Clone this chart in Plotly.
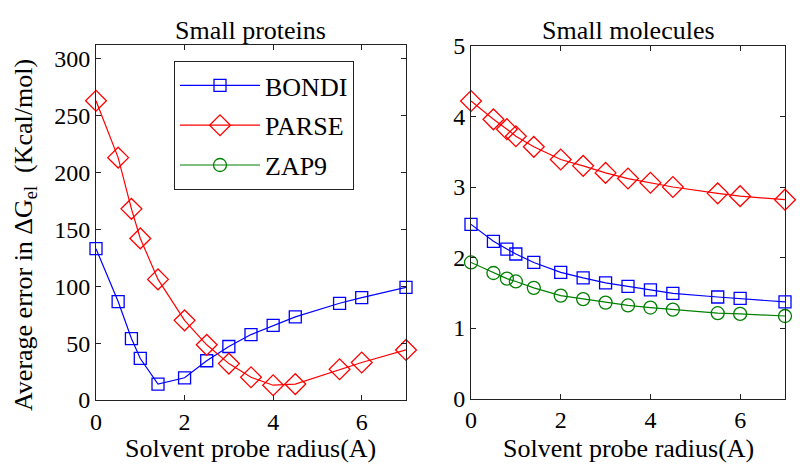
import plotly.graph_objects as go

# Probe radii (A)
radius = [0, 0.5, 0.8, 1.0, 1.4, 2.0, 2.5, 3.0, 3.5, 4.0, 4.5, 5.5, 6.0, 7.0]

# Small proteins: average error (Kcal/mol)
prot_bondi = [133, 86.5, 54, 36.5, 14, 19.5, 34.5, 47, 57.5, 65.5, 73, 85, 90, 99]
prot_parse = [263, 213, 168, 142, 106, 70, 48.5, 32, 20, 13, 14, 27, 33, 44]

# Small molecules: average error (Kcal/mol)
mol_bondi = [2.47, 2.23, 2.12, 2.05, 1.93, 1.79, 1.71, 1.64, 1.59, 1.54, 1.49, 1.44, 1.42, 1.37]
mol_parse = [4.22, 3.96, 3.82, 3.72, 3.57, 3.39, 3.30, 3.20, 3.12, 3.06, 3.00, 2.91, 2.87, 2.82]
mol_zap9 = [1.93, 1.78, 1.70, 1.66, 1.57, 1.46, 1.41, 1.36, 1.32, 1.29, 1.26, 1.21, 1.20, 1.17]

x_ticks = [0, 2, 4, 6]
prot_yticks = [0, 50, 100, 150, 200, 250, 300]
mol_yticks = [0, 1, 2, 3, 4, 5]

BLUE = "rgb(0,0,255)"
RED = "rgb(255,0,0)"
GREEN = "rgb(0,128,0)"
FONT = "Liberation Serif"

fig = go.Figure()

def add(x, y, name, color, symbol, size, xa, ya, show):
    fig.add_trace(go.Scatter(
        x=x, y=y, name=name, mode="lines+markers", cliponaxis=False,
        line=dict(color=color, width=1.2),
        marker=dict(symbol=symbol, size=size, color=color,
                    line=dict(color=color, width=1.3)),
        xaxis=xa, yaxis=ya, showlegend=show, legendgroup=name))

add(radius, prot_bondi, "BONDI", BLUE, "square-open", 12, "x", "y", False)
add(radius, prot_parse, "PARSE", RED, "diamond-open", 16, "x", "y", False)
add(radius, mol_bondi, "BONDI", BLUE, "square-open", 12, "x2", "y2", True)
add(radius, mol_parse, "PARSE", RED, "diamond-open", 16, "x2", "y2", True)
add(radius, mol_zap9, "ZAP9", GREEN, "circle-open", 13, "x2", "y2", True)

W, H = 800, 473
axis_common = dict(
    showline=True, linecolor="#222", linewidth=1, mirror="allticks",
    ticks="inside", ticklen=5, tickcolor="#222", showgrid=False, zeroline=False,
    tickfont=dict(family=FONT, size=24, color="black"), automargin=False,
)

fig.update_layout(
    width=W, height=H,
    margin=dict(l=0, r=0, t=0, b=0),
    paper_bgcolor="white", plot_bgcolor="white",
    font=dict(family=FONT, color="black"),
    xaxis=dict(domain=[96 / W, 406 / W], range=[0, 7], tickvals=x_ticks, anchor="y",
               **axis_common),
    yaxis=dict(domain=[(H - 400) / H, (H - 45) / H], range=[0, 312], tickvals=prot_yticks,
               anchor="x", **axis_common),
    xaxis2=dict(domain=[471 / W, 785 / W], range=[0, 7], tickvals=x_ticks, anchor="y2",
                **axis_common),
    yaxis2=dict(domain=[(H - 398.5) / H, (H - 46) / H], range=[0, 5], tickvals=mol_yticks,
                anchor="x2", **axis_common),
    legend=dict(
        x=174 / W, y=(H - 61) / H, xanchor="left", yanchor="top",
        bgcolor="white", bordercolor="#222", borderwidth=1,
        font=dict(family=FONT, size=26, color="black"),
        itemwidth=80, tracegroupgap=3,
    ),
    annotations=[
        dict(text="Small proteins", x=251 / W, y=(H - 30) / H, xref="paper", yref="paper",
             showarrow=False, font=dict(family=FONT, size=26), xanchor="center", yanchor="middle"),
        dict(text="Small molecules", x=628 / W, y=(H - 30) / H, xref="paper", yref="paper",
             showarrow=False, font=dict(family=FONT, size=26), xanchor="center", yanchor="middle"),
        dict(text="Solvent probe radius(A)", x=251 / W, y=(H - 448) / H, xref="paper", yref="paper",
             showarrow=False, font=dict(family=FONT, size=26), xanchor="center", yanchor="middle"),
        dict(text="Solvent probe radius(A)", x=628 / W, y=(H - 448) / H, xref="paper", yref="paper",
             showarrow=False, font=dict(family=FONT, size=26), xanchor="center", yanchor="middle"),
        dict(text="Average error in \u0394G<sub>el</sub>  (Kcal/mol)", x=25 / W, y=(H - 235) / H,
             xref="paper", yref="paper", textangle=-90,
             showarrow=False, font=dict(family=FONT, size=26), xanchor="center", yanchor="middle"),
    ],
)

fig.write_html("out.html", config={"displayModeBar": False},
               post_script="document.body.style.margin='0';")
